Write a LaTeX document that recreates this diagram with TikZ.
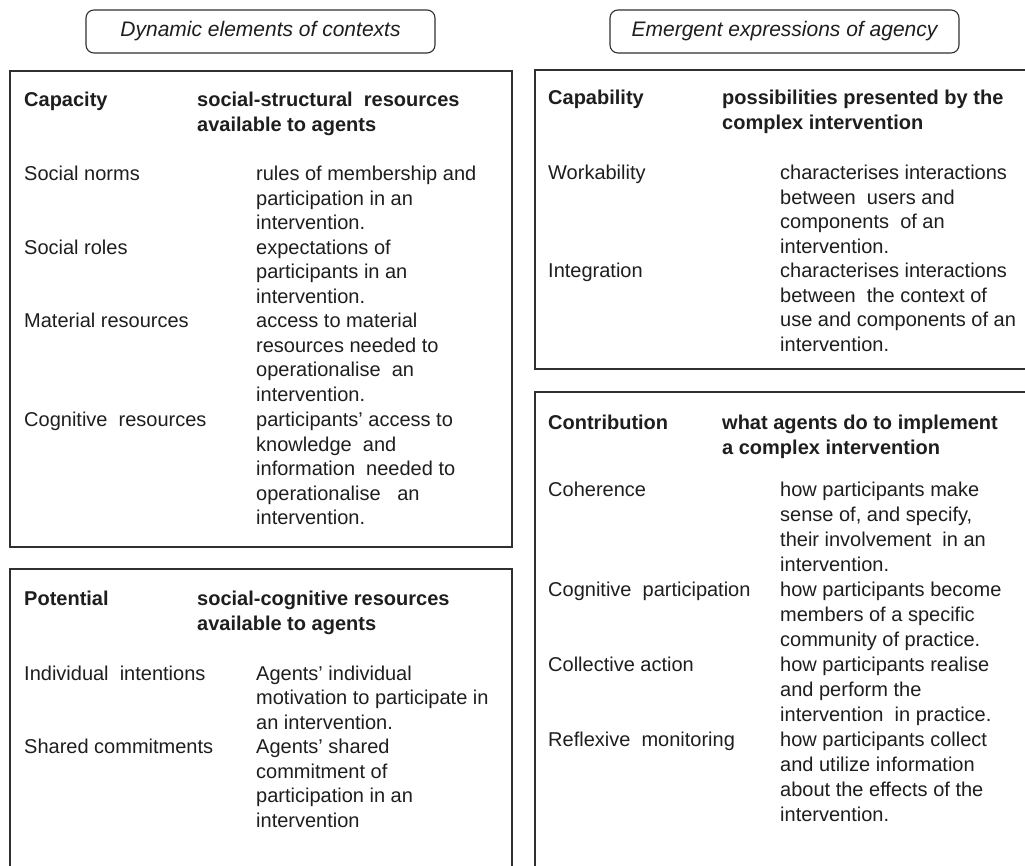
\documentclass[tikz,border=0pt]{standalone}
\usepackage{fontspec}
\setmainfont{Liberation Sans}
\newcommand{\ml}[1]{\begin{tabular}[t]{@{}l@{}}#1\end{tabular}}
\definecolor{ink}{HTML}{1E1E1E}
\definecolor{framec}{HTML}{303030}
\begin{document}
\begin{tikzpicture}[x=1pt,y=-1pt,
  txt/.style={anchor=base west, inner sep=0, text=ink, font=\fontsize{20}{24.5}\selectfont},
  txtc/.style={anchor=base west, inner sep=0, text=ink, font=\fontsize{20}{25}\selectfont},
  bld/.style={anchor=base west, inner sep=0, text=ink, font=\fontsize{20}{24.5}\selectfont\bfseries},
  frame/.style={draw=framec, line width=1.6pt},
  hdr/.style={draw=framec, line width=1.1pt, rounded corners=8pt, minimum width=349pt, minimum height=43pt,
    inner sep=0, text=ink, font=\fontsize{21}{24}\selectfont\itshape}]
\useasboundingbox (0,0) rectangle (1025,866);
\clip (0,0) rectangle (1025,866);
\fill[white] (0,0) rectangle (1025,866);

% headers
\node[hdr] (h1) at (260.5,31.5) {Dynamic elements of contexts};
\node[hdr] (h2) at (784.5,31.5) {Emergent expressions of agency};

% frames
\draw[frame] (10,71) rectangle (512,547);
\draw[frame] (10,569) rectangle (512,880);
\draw[frame] (535,70) rectangle (1040,369);
\draw[frame] (535,392) rectangle (1040,880);

% Capacity
\node[bld] (cap) at (24,107) {Capacity};
\node[bld] (capd) at (197,107) {\ml{social-structural\ \ resources\\available to agents}};
\node[txt] (sn) at (24,181) {Social norms};
\node[txt] (snd) at (256,181) {\ml{rules of membership and\\participation in an\\intervention.}};
\node[txt] (sr) at (24,254.5) {Social roles};
\node[txt] (srd) at (256,254.5) {\ml{expectations of\\participants in an\\intervention.}};
\node[txt] (mr) at (24,328) {Material resources};
\node[txt] (mrd) at (256,328) {\ml{access to material\\resources needed to\\operationalise\ \ an\\intervention.}};
\node[txt] (cr) at (24,426.5) {Cognitive\ \ resources};
\node[txt] (crd) at (256,426.5) {\ml{participants’ access to\\knowledge\ \ and\\information\ \ needed to\\operationalise\ \ \ an\\intervention.}};

% Potential
\node[bld] (pot) at (24,605.5) {Potential};
\node[bld] (potd) at (197,605.5) {\ml{social-cognitive resources\\available to agents}};
\node[txt] (ii) at (24,680) {Individual\ \ intentions};
\node[txt] (iid) at (256,680) {\ml{Agents’ individual\\motivation to participate in\\an intervention.}};
\node[txt] (sc) at (24,753.5) {Shared commitments};
\node[txt] (scd) at (256,753.5) {\ml{Agents’ shared\\commitment of\\participation in an\\intervention}};

% Capability
\node[bld] (cpb) at (548,105) {Capability};
\node[bld] (cpbd) at (722,105) {\ml{possibilities presented by the\\complex intervention}};
\node[txt] (wk) at (548,180) {Workability};
\node[txt] (wkd) at (780,180) {\ml{characterises interactions\\between\ \ users and\\components\ \ of an\\intervention.}};
\node[txt] (ig) at (548,278) {Integration};
\node[txt] (igd) at (780,278) {\ml{characterises interactions\\between\ \ the context of\\use and components of an\\intervention.}};

% Contribution
\node[bld] (ctb) at (548,429.5) {Contribution};
\node[bld] (ctbd) at (722,429.5) {\ml{what agents do to implement\\a complex intervention}};
\node[txtc] (co) at (548,496) {Coherence};
\node[txtc] (cod) at (780,496) {\ml{how participants make\\sense of, and specify,\\their involvement\ \ in an\\intervention.}};
\node[txtc] (cp) at (548,596) {Cognitive\ \ participation};
\node[txtc] (cpd) at (780,596) {\ml{how participants become\\members of a specific\\community of practice.}};
\node[txtc] (ca) at (548,671) {Collective action};
\node[txtc] (cad) at (780,671) {\ml{how participants realise\\and perform the\\intervention\ \ in practice.}};
\node[txtc] (rm) at (548,746) {Reflexive\ \ monitoring};
\node[txtc] (rmd) at (780,746) {\ml{how participants collect\\and utilize information\\about the effects of the\\intervention.}};
\end{tikzpicture}
\end{document}
